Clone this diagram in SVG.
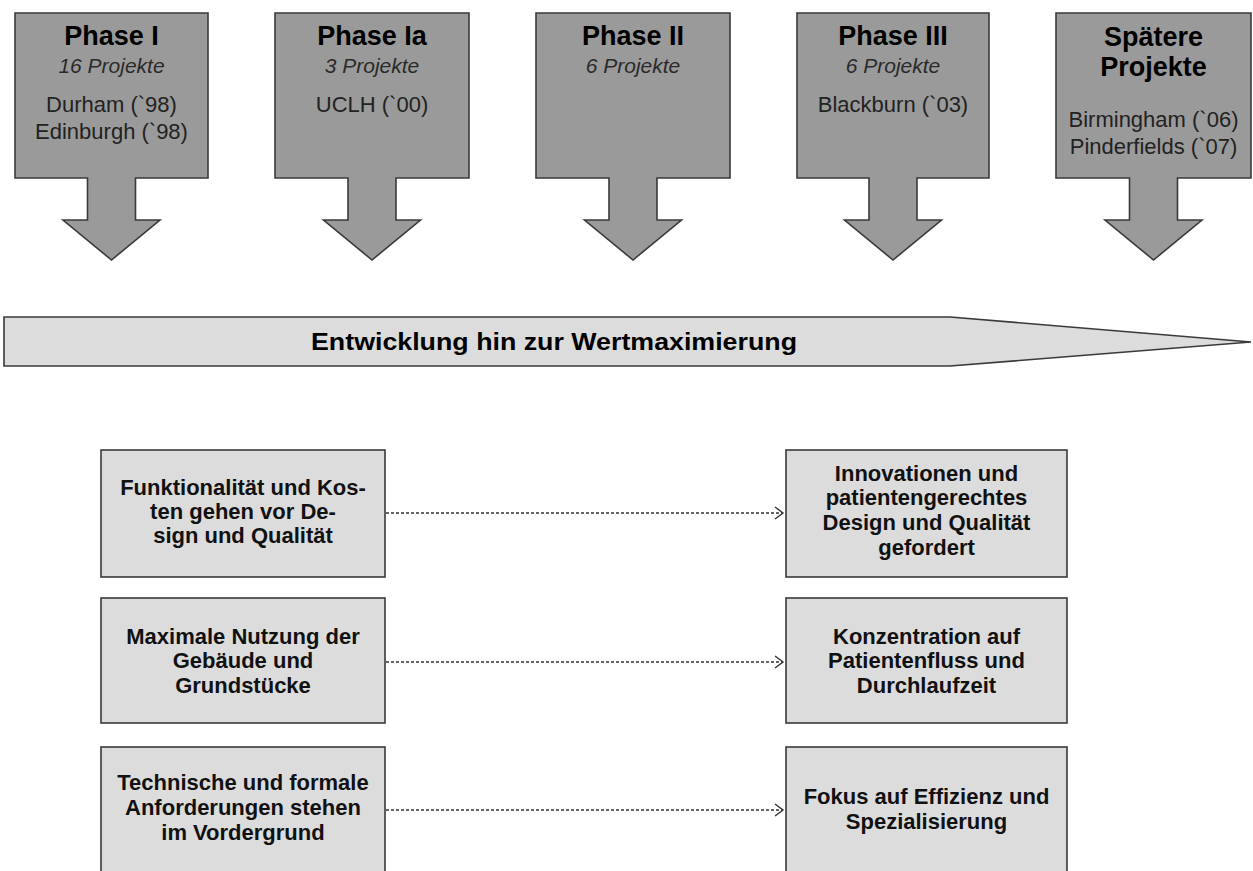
<svg xmlns="http://www.w3.org/2000/svg" width="1253" height="871" viewBox="0 0 1253 871">
<style>
.ph{fill:#9a9a9a;stroke:#3a3a3a;stroke-width:1.6}
.bx{fill:#dcdcdc;stroke:#3a3a3a;stroke-width:1.6}
.t{font-family:"Liberation Sans",Arial,sans-serif;text-anchor:middle}
.ti{font-size:27px;font-weight:bold;fill:#000}
.it{font-size:21px;font-style:italic;fill:#2a2a2a}
.ct{font-size:22px;fill:#222}
.bt{font-size:22px;font-weight:bold;fill:#111}
.con{stroke:#333;stroke-width:1.4;stroke-dasharray:3 2;fill:none}
.hd{stroke:#333;stroke-width:1.4;fill:none}
</style>
<rect width="1253" height="871" fill="#fff"/>
<g id="phase1">
<path class="ph" d="M15,13 H208 V178 H135.5 V220 H160 L111.5,260 L63,220 H87.5 V178 H15 Z"/>
<text class="t ti" x="111.5" y="45">Phase I</text>
<text class="t it" x="111.5" y="73">16 Projekte</text>
<text class="t ct" x="111.5" y="112">Durham (`98)</text>
<text class="t ct" x="111.5" y="139">Edinburgh (`98)</text>
</g>
<g id="phase1a">
<path class="ph" d="M275,13 H469 V178 H396 V220 H420.5 L372,260 L323.5,220 H348 V178 H275 Z"/>
<text class="t ti" x="372" y="45">Phase Ia</text>
<text class="t it" x="372" y="73">3 Projekte</text>
<text class="t ct" x="372" y="112">UCLH (`00)</text>
</g>
<g id="phase2">
<path class="ph" d="M536,13 H730 V178 H657 V220 H681.5 L633,260 L584.5,220 H609 V178 H536 Z"/>
<text class="t ti" x="633" y="45">Phase II</text>
<text class="t it" x="633" y="73">6 Projekte</text>
</g>
<g id="phase3">
<path class="ph" d="M797,13 H989 V178 H917 V220 H941.5 L893,260 L844.5,220 H869 V178 H797 Z"/>
<text class="t ti" x="893" y="45">Phase III</text>
<text class="t it" x="893" y="73">6 Projekte</text>
<text class="t ct" x="893" y="112">Blackburn (`03)</text>
</g>
<g id="later">
<path class="ph" d="M1056,13 H1251 V178 H1177.5 V220 H1202 L1153.5,260 L1105,220 H1129.5 V178 H1056 Z"/>
<text class="t ti" x="1153.5" y="46">Spätere</text>
<text class="t ti" x="1153.5" y="76">Projekte</text>
<text class="t ct" x="1153.5" y="127">Birmingham (`06)</text>
<text class="t ct" x="1153.5" y="154">Pinderfields (`07)</text>
</g>
<g id="timeline">
<path class="bx" d="M4,317 H950 L1251,342 L950,366 H4 Z"/>
<text class="t" x="554" y="350" font-size="24" font-weight="bold" textLength="486" lengthAdjust="spacingAndGlyphs">Entwicklung hin zur Wertmaximierung</text>
</g>
<g id="left1">
<rect class="bx" x="101" y="450" width="284" height="127"/>
<text class="t bt" x="243" y="495">Funktionalität und Kos-</text>
<text class="t bt" x="243" y="519">ten gehen vor De-</text>
<text class="t bt" x="243" y="543">sign und Qualität</text>
</g>
<g id="right1">
<rect class="bx" x="786" y="450" width="281" height="127"/>
<text class="t bt" x="926.5" y="481">Innovationen und</text>
<text class="t bt" x="926.5" y="505">patientengerechtes</text>
<text class="t bt" x="926.5" y="530">Design und Qualität</text>
<text class="t bt" x="926.5" y="555">gefordert</text>
</g>
<g id="left2">
<rect class="bx" x="101" y="598" width="284" height="125"/>
<text class="t bt" x="243" y="644">Maximale Nutzung der</text>
<text class="t bt" x="243" y="668">Gebäude und</text>
<text class="t bt" x="243" y="693">Grundstücke</text>
</g>
<g id="right2">
<rect class="bx" x="786" y="598" width="281" height="125"/>
<text class="t bt" x="926.5" y="644">Konzentration auf</text>
<text class="t bt" x="926.5" y="668">Patientenfluss und</text>
<text class="t bt" x="926.5" y="693">Durchlaufzeit</text>
</g>
<g id="left3">
<rect class="bx" x="101" y="747" width="284" height="130"/>
<text class="t bt" x="243" y="790">Technische und formale</text>
<text class="t bt" x="243" y="815">Anforderungen stehen</text>
<text class="t bt" x="243" y="840">im Vordergrund</text>
</g>
<g id="right3">
<rect class="bx" x="786" y="747" width="281" height="130"/>
<text class="t bt" x="926.5" y="804">Fokus auf Effizienz und</text>
<text class="t bt" x="926.5" y="829">Spezialisierung</text>
</g>
<g id="connectors">
<line class="con" x1="386" y1="513" x2="783" y2="513"/>
<path class="hd" d="M775,507 L783,513 L775,519"/>
<line class="con" x1="386" y1="662" x2="783" y2="662"/>
<path class="hd" d="M775,656 L783,662 L775,668"/>
<line class="con" x1="386" y1="810" x2="783" y2="810"/>
<path class="hd" d="M775,804 L783,810 L775,816"/>
</g>
</svg>
